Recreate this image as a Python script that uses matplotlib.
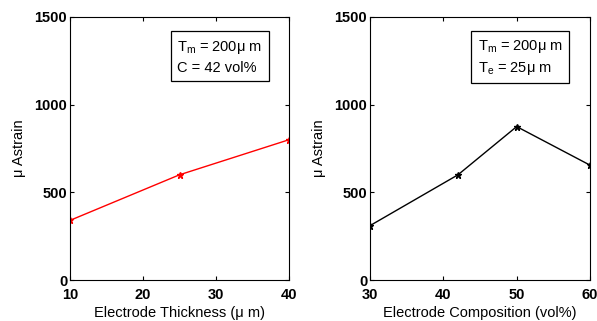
import matplotlib
matplotlib.use("Agg")
import matplotlib.pyplot as plt

plt.rcParams['font.family'] = ['Liberation Sans', 'DejaVu Sans']
plt.rcParams['mathtext.fontset'] = 'custom'
plt.rcParams['mathtext.rm'] = 'Liberation Sans'
plt.rcParams['mathtext.it'] = 'Liberation Sans'

thickness = [10, 25, 40]
strain_thickness = [340, 600, 800]
composition = [30, 42, 50, 60]
strain_composition = [310, 600, 875, 655]

yticks = [0, 500, 1000, 1500]

fig = plt.figure(figsize=(5.97, 3.21), dpi=100)
ax1 = fig.add_axes([70/597, 1-280/321, 219/597, 263/321])
ax2 = fig.add_axes([370/597, 1-280/321, 220/597, 263/321])

ax1.plot(thickness, strain_thickness, color='red', marker='*', markersize=5, linewidth=1)
ax2.plot(composition, strain_composition, color='black', marker='*', markersize=5, linewidth=1)

ax1.set_xlim(10, 40)
ax1.set_xticks([10, 20, 30, 40])
ax2.set_xlim(30, 60)
ax2.set_xticks([30, 40, 50, 60])

for ax in (ax1, ax2):
    ax.set_ylim(0, 1500)
    ax.set_yticks(yticks)
    ax.tick_params(direction='in', top=True, right=True, labelsize=10.5, length=3)
    ax.tick_params(axis='x', pad=6)
    ax.tick_params(axis='y', pad=2)
    for lbl in ax.get_xticklabels() + ax.get_yticklabels():
        lbl.set_fontweight('bold')
    ax.set_ylabel('μ Astrain', fontsize=10.5, labelpad=6)
    for s in ax.spines.values():
        s.set_linewidth(0.8)

ax1.set_xlabel('Electrode Thickness (μ m)', fontsize=10.5, labelpad=3)
ax2.set_xlabel('Electrode Composition (vol%)', fontsize=10.5, labelpad=3)

box = dict(boxstyle='square,pad=0.45', facecolor='white', edgecolor='black', linewidth=0.9)
ax1.text(0.49, 0.915, 'T$_\\mathrm{m}$ = 200μ m\nC = 42 vol%', transform=ax1.transAxes,
         fontsize=10.5, va='top', ha='left', bbox=box, linespacing=1.4)
ax2.text(0.49, 0.92, 'T$_\\mathrm{m}$ = 200μ m\nT$_\\mathrm{e}$ = 25μ m', transform=ax2.transAxes,
         fontsize=10.5, va='top', ha='left', bbox=box, linespacing=1.4)

fig.savefig('out.png', dpi=100)
